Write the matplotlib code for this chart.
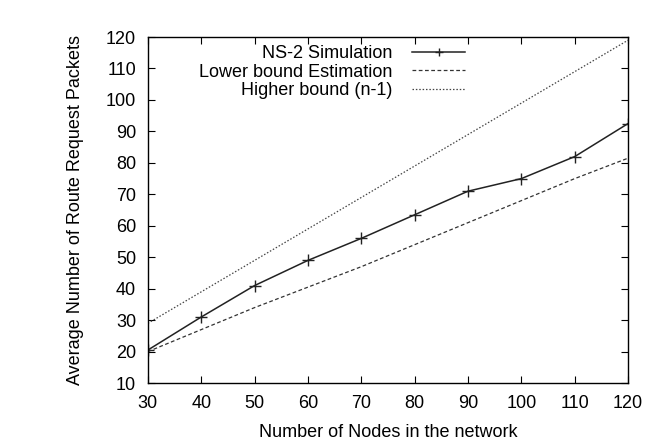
import matplotlib.pyplot as plt

plt.rcParams['font.family'] = ['Liberation Sans', 'DejaVu Sans']

nodes = [30, 40, 50, 60, 70, 80, 90, 100, 110, 120]
ns2_sim = [20.5, 31, 41, 49, 56, 63.5, 71, 75, 82, 92.5]
lower_bound = [20, 27, 34, 40.5, 47, 54, 61, 68, 75, 81.5]
higher_bound = [29, 39, 49, 59, 69, 79, 89, 99, 109, 119]

fig = plt.figure(figsize=(6.57, 4.46), dpi=100)
ax = fig.add_axes([0.225, 0.141, 0.731, 0.776])

ax.plot(nodes, ns2_sim, color='#222222', lw=1.1, marker='+', ms=8, mew=1.0,
        label='NS-2 Simulation')
ax.plot(nodes, lower_bound, color='#333333', lw=0.9, dashes=(3, 2),
        label='Lower bound Estimation')
ax.plot(nodes, higher_bound, color='#444444', lw=0.9, dashes=(1.2, 1.5),
        label='Higher bound (n-1)')

ax.set_xlim(30, 120)
ax.set_ylim(10, 120)
ax.set_xticks(range(30, 121, 10))
ax.set_yticks(range(10, 121, 10))
ax.tick_params(direction='in', top=True, right=True, labelsize=13, length=5, pad=8.5)
for s in ax.spines.values():
    s.set_linewidth(1.0)

ax.set_xlabel('Number of Nodes in the network', fontsize=13, labelpad=9)
ax.set_ylabel('Average Number of Route Request Packets', fontsize=13, labelpad=16)

leg = ax.legend(loc='upper right', bbox_to_anchor=(0.66, 0.976), frameon=False,
                markerfirst=False, fontsize=13, handlelength=2.9,
                labelspacing=0.08, handletextpad=1.1, borderpad=0,
                borderaxespad=0, markerscale=0.7, alignment='right')
for t in leg.get_texts():
    t.set_ha('right')

fig.savefig('out.png')
